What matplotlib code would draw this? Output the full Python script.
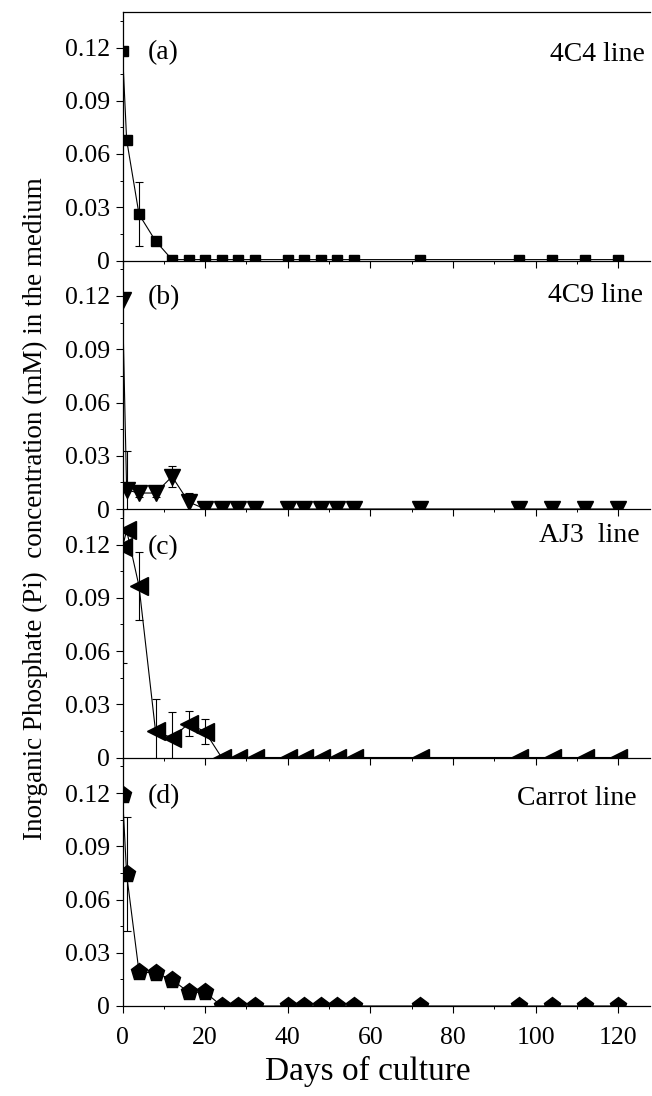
import matplotlib
matplotlib.use("Agg")
import matplotlib.pyplot as plt
from matplotlib.ticker import FixedLocator, MultipleLocator

plt.rcParams['font.family'] = ['Liberation Serif', 'DejaVu Serif']

# ---- data -------------------------------------------------------------
days = [0, 1, 4, 8, 12, 16, 20, 24, 28, 32, 40, 44, 48, 52, 56, 72, 96, 104, 112, 120]

pi_4c4 = [0.118, 0.068, 0.026, 0.011] + [0.0005] * 16
err_4c4 = [0, 0, 0.018, 0] + [0] * 16

pi_4c9 = [0.118, 0.0107, 0.009, 0.009, 0.0183, 0.004] + [0.0] * 14
err_4c9 = [0, 0.022, 0.002, 0.002, 0.006, 0.005] + [0] * 14

pi_aj3 = [0.1185, 0.128, 0.0965, 0.0148, 0.011, 0.0191, 0.0145] + [0.0] * 13
err_aj3 = [0.065, 0, 0.019, 0.018, 0.0147, 0.007, 0.007] + [0] * 13

pi_carrot = [0.1187, 0.0742, 0.0192, 0.0186, 0.0149, 0.0077, 0.0078] + [0.0] * 13
err_carrot = [0, 0.032, 0, 0, 0, 0, 0] + [0] * 13

panel_letters = ['(a)', '(b)', '(c)', '(d)']
line_names = ['4C4 line', '4C9 line', 'AJ3  line', 'Carrot line']
markers = ['s', 'v', '<', 'p']
marker_sizes = [7.2, 11.5, 12.5, 12.5]

y_ticks = [0, 0.03, 0.06, 0.09, 0.12]
y_tick_labels = ['0', '0.03', '0.06', '0.09', '0.12']
x_ticks = [0, 20, 40, 60, 80, 100, 120]

series = [(pi_4c4, err_4c4), (pi_4c9, err_4c9), (pi_aj3, err_aj3), (pi_carrot, err_carrot)]

# ---- figure -----------------------------------------------------------
W, H = 652, 1096
fig = plt.figure(figsize=(W / 100, H / 100), dpi=100)

left = 122.5 / W
width = (650 - 122.5) / W
bottom0 = (H - 1006) / H
ph = 248.5 / H

label_y = [0.117, 0.119, 0.118, 0.118]
name_y = [0.116, 0.120, 0.125, 0.117]
name_x = [126.5, 126.0, 125.3, 124.5]

axes = []
for i in range(4):
    b = bottom0 + (3 - i) * ph
    ax = fig.add_axes([left, b, width, ph])
    axes.append(ax)
    vals, errs = series[i]
    ax.plot(days, vals, color='black', lw=0.8, zorder=2)
    e_days = [d for d, e in zip(days, errs) if e > 0]
    e_vals = [v for v, e in zip(vals, errs) if e > 0]
    e_errs = [e for e in errs if e > 0]
    ax.errorbar(e_days, e_vals, yerr=e_errs, fmt='none', ecolor='black',
                elinewidth=0.8, capsize=3, capthick=0.8, zorder=2)
    ax.plot(days, vals, linestyle='none', marker=markers[i], ms=marker_sizes[i],
            color='black', mec='black', zorder=3)

    ax.set_xlim(0, 127.7)
    ax.set_ylim(0, 0.14)
    ax.yaxis.set_major_locator(FixedLocator(y_ticks))
    ax.set_yticklabels(y_tick_labels)
    ax.yaxis.set_minor_locator(MultipleLocator(0.015))
    ax.xaxis.set_major_locator(FixedLocator(x_ticks))
    ax.xaxis.set_minor_locator(MultipleLocator(10))

    ax.spines['right'].set_visible(False)
    if i > 0:
        ax.spines['top'].set_visible(False)
    for s in ax.spines.values():
        s.set_linewidth(0.9)

    ax.tick_params(axis='both', which='major', direction='out', length=5, width=0.8,
                   labelsize=18.5, pad=4)
    ax.tick_params(axis='both', which='minor', direction='out', length=2.5, width=0.7)
    ax.tick_params(axis='x', which='major', pad=10)
    ax.tick_params(axis='x', top=False)
    ax.tick_params(axis='y', right=False)
    if i < 3:
        ax.tick_params(axis='x', labelbottom=False)

    ax.text(6.0, label_y[i], panel_letters[i], fontsize=20, ha='left', va='center')
    ax.text(name_x[i], name_y[i], line_names[i], fontsize=20, ha='right', va='center')
    ax.patch.set_alpha(0)

axes[3].set_xlabel('Days of culture', fontsize=24)
axes[3].xaxis.set_label_coords((368 - 122.5) / (650 - 122.5), -0.2)
fig.text(35 / W, 1 - 509 / H,
         'Inorganic Phosphate (Pi)  concentration (mM) in the medium',
         rotation=90, fontsize=19.5, ha='center', va='center')

fig.savefig('out.png', dpi=100)
